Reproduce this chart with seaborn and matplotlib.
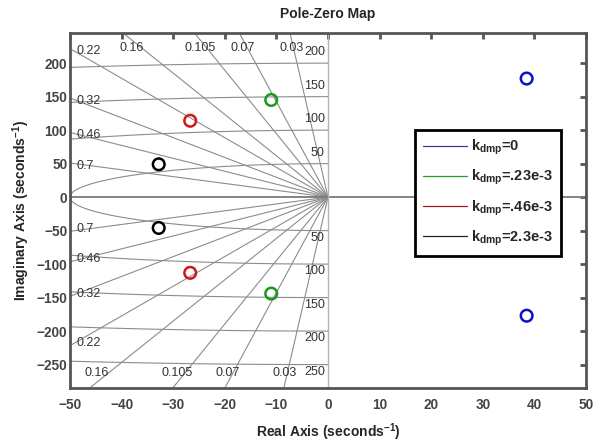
import numpy as np
import pandas as pd
import seaborn as sns
import matplotlib
matplotlib.use("Agg")
import matplotlib.pyplot as plt
from matplotlib.lines import Line2D

# ---- data ----
series_labels = ["k$_{dmp}$=0", "k$_{dmp}$=.23e-3", "k$_{dmp}$=.46e-3", "k$_{dmp}$=2.3e-3"]
series_colors = ["#1010c8", "#1a9a1a", "#d01818", "#000000"]
pole_real = [[38.5, 38.5], [-11.0, -11.0], [-26.7, -26.7], [-32.8, -32.8]]
pole_imag = [[177, -177], [145, -144], [114, -113], [49, -46]]

zetas = [0.03, 0.07, 0.105, 0.16, 0.22, 0.32, 0.46, 0.7]
zeta_labels = ["0.03", "0.07", "0.105", "0.16", "0.22", "0.32", "0.46", "0.7"]
wn_values = [50, 100, 150, 200, 250]
wn_labels = ["50", "100", "150", "200", "250"]

xticks = [-50, -40, -30, -20, -10, 0, 10, 20, 30, 40, 50]
yticks = [-250, -200, -150, -100, -50, 0, 50, 100, 150, 200]
xlim = (-50, 50)
ylim = (-285, 245)

# ---- style ----
sns.set_theme(style="white")
plt.rcParams["font.family"] = ["Liberation Sans", "DejaVu Sans"]
plt.rcParams["mathtext.default"] = "regular"

fig = plt.figure(figsize=(5.96, 4.44), dpi=100)
ax = fig.add_axes([0.1174, 0.126, 0.8658, 0.7997])
ax.set_xlim(*xlim)
ax.set_ylim(*ylim)

gcol = "#8c8c8c"
glw = 0.8
# damping ratio lines
for z in zetas:
    R = 2000.0
    s = np.sqrt(1 - z * z)
    for sign in (1, -1):
        ax.plot([0, -R * z], [0, sign * R * s], color=gcol, lw=glw, zorder=1)
# natural frequency circles (left half plane)
th = np.linspace(np.pi / 2, 3 * np.pi / 2, 400)
for w in wn_values:
    ax.plot(w * np.cos(th), w * np.sin(th), color=gcol, lw=glw, zorder=1)

# axes lines
ax.axhline(0, color="#7a7a7a", lw=1.3, zorder=1)
ax.axvline(0, color="#b4b4b4", lw=1.0, zorder=1)

# damping labels
lab_kw = dict(fontsize=9, color="#333333", zorder=2)
for z, lab in zip(zetas, zeta_labels):
    s = np.sqrt(1 - z * z)
    yl = -xlim[0] * s / z
    if yl < ylim[1]:
        ax.text(xlim[0] + 1.3, yl - 4, lab, ha="left", va="center", **lab_kw)
    else:
        ax.text(-(ylim[1] - 10) * z / s, 222, lab, ha="center", va="center", **lab_kw)
    yb = -yl
    if yb > ylim[0]:
        ax.text(xlim[0] + 1.3, yb + 4, lab, ha="left", va="center", **lab_kw)
    else:
        ax.text((ylim[0] + 8) * z / s, -263, lab, ha="center", va="center", **lab_kw)

# frequency labels
for w, lab in zip(wn_values, wn_labels):
    if w + 16 < ylim[1]:
        ax.text(-0.6, w + 16, lab, ha="right", va="center", **lab_kw)
    ax.text(-0.6, -w - 11, lab, ha="right", va="center", **lab_kw)

# poles
for lab, c, xr, yi in zip(series_labels, series_colors, pole_real, pole_imag):
    df = pd.DataFrame({"re": xr, "im": yi})
    sns.scatterplot(data=df, x="re", y="im", ax=ax, marker="o", s=70, color=c,
                    linewidth=1.8, zorder=3, legend=False)
    coll = ax.collections[-1]
    coll.set_facecolor("none")
    coll.set_edgecolor(c)

# legend
handles = [Line2D([0], [0], color=c, lw=0.9) for c in ["#3a3a9a", "#2a9a2a", "#a01818", "#222222"]]
leg = ax.legend(handles, series_labels, loc="upper left", bbox_to_anchor=(0.669, 0.727),
                frameon=True, fancybox=False, edgecolor="black", framealpha=1,
                prop={"weight": "bold", "size": 10.5}, handlelength=3.0,
                labelspacing=0.75, borderpad=0.55, handletextpad=0.3, borderaxespad=0)
leg.get_frame().set_linewidth(2.0)
leg.set_zorder(5)

# ticks/spines
ax.set_xticks(xticks)
ax.set_yticks(yticks)
ax.tick_params(direction="in", length=4, width=2, color="#555555", top=True, right=True,
               labelsize=9.8, labelcolor="#444444")
ax.tick_params(axis="x", pad=7)
ax.tick_params(axis="y", pad=2)
for lbl in ax.get_xticklabels() + ax.get_yticklabels():
    lbl.set_fontweight("bold")
for sp in ax.spines.values():
    sp.set_color("#555555")
    sp.set_linewidth(2)
ax.set_xlabel("Real Axis (seconds$^{-1}$)", fontweight="bold", fontsize=10, labelpad=7)
ax.set_ylabel("Imaginary Axis (seconds$^{-1}$)", fontweight="bold", fontsize=10, labelpad=3)
ax.set_title("Pole-Zero Map", fontweight="bold", fontsize=10, pad=11)

fig.savefig("out.png", dpi=100)
